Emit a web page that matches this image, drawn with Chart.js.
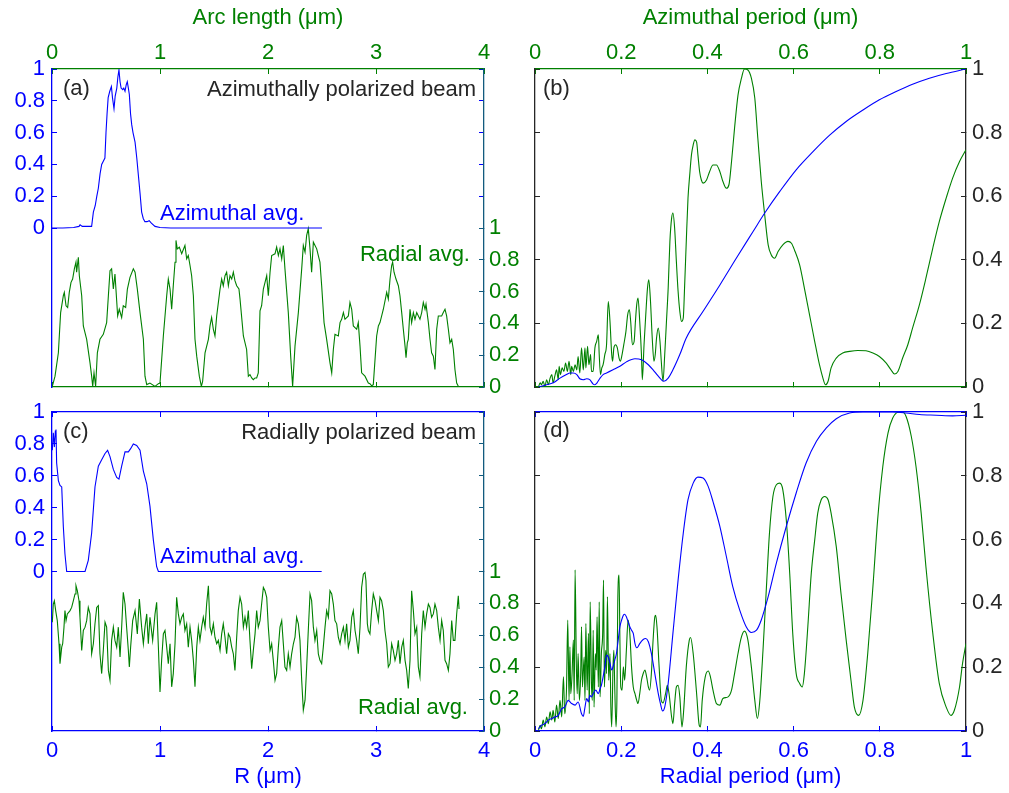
<!DOCTYPE html>
<html lang="en">
<head>
<meta charset="UTF-8">
<title>Beam averages and spectra</title>
<script src="https://cdn.jsdelivr.net/npm/chart.js@4.4.1/dist/chart.umd.min.js"></script>
<style>
  body { margin: 0; background: #fff; }
  #fig { position: relative; width: 1009px; height: 793px; font-family: "Liberation Sans", Arial, sans-serif; }
  #fig canvas { position: absolute; left: 0; top: 0; }
  .note { position: absolute; font-size: 22px; line-height: 22px; white-space: nowrap; transform: translateY(-50%); color: #262626; }
</style>
<script>
// ---------- tick values ----------
const rTicks = [0, 1, 2, 3, 4];
const unitTicks = [0, 0.2, 0.4, 0.6, 0.8, 1];

// ---------- (a) azimuthally polarized beam ----------
const aziA_R = [0, 0.1, 0.2, 0.25, 0.26, 0.28, 0.33, 0.367, 0.383, 0.40,
  0.415, 0.429, 0.445, 0.46, 0.475, 0.49, 0.50, 0.51, 0.52, 0.535,
  0.55, 0.56, 0.574, 0.585, 0.60, 0.61, 0.62, 0.63, 0.64, 0.655,
  0.665, 0.676, 0.687, 0.697, 0.707, 0.716, 0.727, 0.738, 0.75, 0.769,
  0.785, 0.80, 0.815, 0.83, 0.845, 0.86, 0.88, 0.90, 0.92, 0.954,
  1.0, 1.1, 2.5];
const aziA = [0, 0, 0.003, 0.01, 0.02, 0.01, 0.01, 0.01, 0.10, 0.14,
  0.20, 0.25, 0.34, 0.40, 0.42, 0.44, 0.60, 0.72, 0.82, 0.86,
  0.89, 0.82, 0.75, 0.83, 0.88, 0.95, 0.995, 0.92, 0.88, 0.87,
  0.88, 0.86, 0.90, 0.92, 0.88, 0.84, 0.72, 0.65, 0.60, 0.54,
  0.44, 0.33, 0.22, 0.10, 0.06, 0.04, 0.04, 0.046, 0.03, 0.01,
  0.003, 0, 0];

const radA_s = [0.003,0.028,0.059,0.080,0.105,0.114,0.130,0.145,0.160,0.176,
  0.191,0.207,0.222,0.228,0.244,0.253,0.275,0.290,0.321,0.352,
  0.367,0.377,0.389,0.404,0.420,0.444,0.475,0.506,0.522,0.537,
  0.552,0.568,0.583,0.608,0.623,0.645,0.660,0.682,0.698,0.722,
  0.753,0.769,0.790,0.815,0.846,0.861,0.877,0.907,0.954,0.985,
  1.000,1.031,1.062,1.077,1.093,1.108,1.123,1.139,1.148,1.160,
  1.179,1.201,1.231,1.247,1.262,1.278,1.293,1.309,1.324,1.340,
  1.364,1.383,1.395,1.417,1.448,1.463,1.478,1.494,1.509,1.525,
  1.556,1.571,1.586,1.602,1.617,1.633,1.648,1.664,1.679,1.694,
  1.710,1.731,1.741,1.772,1.802,1.818,1.833,1.849,1.864,1.880,
  1.895,1.910,1.926,1.941,1.957,1.988,2.003,2.019,2.034,2.065,
  2.080,2.096,2.111,2.127,2.142,2.157,2.188,2.210,2.228,2.250,
  2.281,2.312,2.327,2.343,2.358,2.373,2.389,2.404,2.420,2.451,
  2.466,2.481,2.497,2.519,2.543,2.574,2.590,2.605,2.620,2.651,
  2.667,2.682,2.698,2.713,2.744,2.759,2.775,2.790,2.821,2.836,
  2.852,2.867,2.898,2.929,2.944,2.960,2.975,3.006,3.022,3.037,
  3.068,3.099,3.114,3.130,3.145,3.154,3.167,3.185,3.207,3.222,
  3.238,3.253,3.269,3.278,3.290,3.299,3.315,3.330,3.346,3.361,
  3.377,3.407,3.423,3.438,3.454,3.463,3.485,3.500,3.515,3.531,
  3.546,3.562,3.577,3.608,3.623,3.639,3.654,3.670,3.685,3.701,
  3.716,3.731,3.747,3.762];
const radA = [0.004,0.068,0.215,0.468,0.574,0.595,0.511,0.500,0.595,0.658,
  0.679,0.743,0.785,0.722,0.816,0.700,0.574,0.384,0.300,0.152,
  0.068,0.004,0.089,0.004,0.215,0.300,0.331,0.405,0.574,0.732,
  0.743,0.616,0.711,0.447,0.489,0.437,0.511,0.500,0.616,0.690,
  0.743,0.722,0.616,0.468,0.300,0.068,0.015,0.025,0.004,0.021,
  0.025,0.321,0.574,0.679,0.616,0.489,0.637,0.785,0.922,0.869,
  0.880,0.838,0.890,0.806,0.827,0.764,0.700,0.574,0.300,0.194,
  0.068,0.004,0.036,0.215,0.300,0.384,0.437,0.363,0.321,0.447,
  0.616,0.679,0.637,0.700,0.722,0.637,0.700,0.679,0.722,0.669,
  0.637,0.616,0.553,0.321,0.236,0.068,0.078,0.057,0.046,0.057,
  0.057,0.089,0.479,0.511,0.616,0.700,0.574,0.722,0.827,0.838,
  0.880,0.827,0.869,0.806,0.890,0.743,0.468,0.194,0.004,0.257,
  0.468,0.743,0.890,0.848,0.954,0.996,0.869,0.722,0.911,0.869,
  0.827,0.785,0.637,0.405,0.300,0.152,0.089,0.236,0.331,0.321,
  0.405,0.426,0.468,0.426,0.447,0.532,0.489,0.384,0.363,0.405,
  0.257,0.089,0.068,0.025,0.021,0.008,0.015,0.321,0.384,0.405,
  0.489,0.595,0.553,0.679,0.764,0.785,0.722,0.679,0.637,0.574,
  0.468,0.363,0.257,0.184,0.278,0.300,0.489,0.405,0.468,0.426,
  0.468,0.426,0.468,0.532,0.489,0.521,0.405,0.300,0.215,0.194,
  0.110,0.363,0.447,0.447,0.468,0.489,0.447,0.363,0.278,0.300,
  0.236,0.110,0.025,0.004];

// ---------- (b) spectra of (a) ----------
const fftAziB_p = [0.008,0.027,0.042,0.058,0.073,0.081,0.089,0.097,0.104,0.112,
  0.120,0.127,0.135,0.139,0.144,0.151,0.158,0.166,0.181,0.197,
  0.212,0.232,0.247,0.263,0.274,0.286,0.299,0.309,0.320,0.336,
  0.351,0.390,0.429,0.467,0.506,0.533,0.568,0.606,0.645,0.683,
  0.722,0.761,0.799,0.838,0.876,0.915,0.954,1.0];
const fftAziB = [0,0.007,0.013,0.028,0.039,0.044,0.044,0.039,0.026,0.023,
  0.026,0.023,0.009,0.007,0.013,0.028,0.039,0.044,0.054,0.065,
  0.079,0.089,0.086,0.070,0.054,0.034,0.018,0.028,0.054,0.102,
  0.154,0.238,0.321,0.405,0.489,0.547,0.615,0.683,0.740,0.791,
  0.835,0.871,0.903,0.929,0.952,0.971,0.986,1.0];

const fftRadB_p = [0.008,0.012,0.015,0.019,0.023,0.027,0.031,0.035,0.039,0.042,
  0.046,0.050,0.054,0.056,0.059,0.063,0.067,0.071,0.075,0.079,
  0.083,0.085,0.089,0.093,0.097,0.100,0.104,0.108,0.112,0.116,
  0.118,0.122,0.125,0.129,0.131,0.135,0.139,0.143,0.147,0.149,
  0.152,0.155,0.158,0.162,0.166,0.170,0.174,0.178,0.180,0.183,
  0.187,0.191,0.195,0.198,0.202,0.206,0.211,0.215,0.219,0.222,
  0.226,0.230,0.233,0.236,0.239,0.243,0.247,0.249,0.253,0.257,
  0.261,0.264,0.268,0.272,0.276,0.279,0.282,0.286,0.290,0.293,
  0.297,0.301,0.305,0.309,0.313,0.317,0.320,0.324,0.328,0.332,
  0.336,0.340,0.344,0.347,0.351,0.355,0.359,0.363,0.367,0.371,
  0.375,0.378,0.382,0.386,0.390,0.398,0.405,0.413,0.421,0.429,
  0.436,0.444,0.450,0.456,0.463,0.471,0.479,0.486,0.494,0.502,
  0.510,0.517,0.525,0.533,0.541,0.548,0.556,0.564,0.575,0.587,
  0.595,0.602,0.614,0.625,0.637,0.649,0.660,0.668,0.674,0.680,
  0.687,0.699,0.714,0.730,0.749,0.768,0.784,0.799,0.815,0.826,
  0.834,0.842,0.853,0.865,0.876,0.892,0.907,0.923,0.938,0.954,
  0.969,0.985,1.0];
const fftRadB = [0,0.013,0.007,0.018,0.002,0.023,0.007,0.028,0.039,0.013,
  0.034,0.054,0.023,0.065,0.039,0.060,0.049,0.075,0.049,0.081,
  0.039,0.065,0.049,0.070,0.054,0.096,0.044,0.123,0.054,0.123,
  0.060,0.128,0.070,0.102,0.049,0.049,0.123,0.143,0.164,0.102,
  0.039,0.060,0.070,0.102,0.133,0.269,0.206,0.102,0.081,0.123,
  0.133,0.123,0.091,0.081,0.102,0.133,0.175,0.227,0.243,0.206,
  0.133,0.143,0.206,0.259,0.280,0.206,0.102,0.023,0.133,0.227,
  0.311,0.337,0.269,0.154,0.081,0.102,0.154,0.185,0.143,0.081,
  0.018,0.102,0.206,0.311,0.458,0.531,0.547,0.499,0.395,0.301,
  0.238,0.206,0.217,0.311,0.458,0.594,0.667,0.730,0.761,0.777,
  0.770,0.730,0.677,0.651,0.641,0.651,0.677,0.698,0.698,0.677,
  0.646,0.625,0.636,0.709,0.814,0.918,0.971,1.0,0.997,0.971,
  0.908,0.782,0.646,0.541,0.447,0.416,0.405,0.426,0.447,0.458,
  0.452,0.431,0.384,0.311,0.227,0.143,0.070,0.028,0.007,0.018,
  0.060,0.091,0.107,0.112,0.115,0.114,0.107,0.096,0.075,0.054,
  0.041,0.049,0.091,0.133,0.185,0.259,0.342,0.437,0.520,0.594,
  0.657,0.709,0.746];

// ---------- (c) radially polarized beam ----------
const aziC_R = [0.003,0.012,0.022,0.031,0.037,0.043,0.059,0.074,0.090,0.105,
  0.120,0.136,0.306,0.336,0.367,0.398,0.429,0.460,0.491,0.515,
  0.537,0.568,0.599,0.620,0.645,0.676,0.707,0.728,0.753,0.784,
  0.815,0.846,0.877,0.907,0.938,0.969,0.985,2.497];
const aziC = [0.76,0.87,0.78,0.88,0.89,0.68,0.57,0.54,0.53,0.28,
  0.11,0,0,0.07,0.24,0.53,0.66,0.70,0.74,0.76,
  0.72,0.64,0.59,0.58,0.66,0.75,0.75,0.77,0.80,0.79,
  0.76,0.63,0.55,0.41,0.20,0.03,0,0];

const radC_s = [0.003,0.012,0.022,0.034,0.049,0.065,0.074,0.090,0.099,0.111,
  0.120,0.130,0.142,0.154,0.167,0.182,0.198,0.213,0.222,0.235,
  0.250,0.259,0.275,0.290,0.306,0.321,0.336,0.352,0.367,0.383,
  0.398,0.414,0.429,0.444,0.460,0.475,0.491,0.506,0.522,0.537,
  0.552,0.568,0.583,0.599,0.614,0.630,0.645,0.660,0.676,0.691,
  0.707,0.716,0.728,0.747,0.769,0.790,0.809,0.830,0.846,0.861,
  0.877,0.892,0.907,0.932,0.954,0.969,0.985,1.000,1.015,1.031,
  1.046,1.062,1.077,1.093,1.108,1.123,1.139,1.154,1.170,1.185,
  1.201,1.216,1.231,1.247,1.262,1.278,1.293,1.309,1.324,1.340,
  1.355,1.370,1.386,1.401,1.417,1.432,1.448,1.463,1.478,1.494,
  1.509,1.525,1.540,1.556,1.571,1.586,1.602,1.617,1.633,1.648,
  1.664,1.679,1.694,1.710,1.725,1.741,1.756,1.772,1.787,1.802,
  1.818,1.833,1.849,1.864,1.880,1.895,1.910,1.926,1.941,1.957,
  1.972,1.988,2.003,2.019,2.034,2.049,2.065,2.080,2.096,2.111,
  2.127,2.142,2.157,2.173,2.188,2.204,2.219,2.235,2.250,2.265,
  2.281,2.296,2.312,2.327,2.343,2.358,2.373,2.389,2.404,2.420,
  2.435,2.451,2.466,2.481,2.497,2.512,2.528,2.543,2.559,2.574,
  2.590,2.605,2.620,2.636,2.651,2.667,2.682,2.698,2.713,2.728,
  2.744,2.759,2.775,2.790,2.806,2.821,2.836,2.852,2.867,2.883,
  2.898,2.907,2.920,2.929,2.944,2.960,2.975,2.991,3.006,3.022,
  3.037,3.052,3.068,3.083,3.099,3.114,3.130,3.145,3.160,3.176,
  3.191,3.207,3.222,3.238,3.253,3.269,3.284,3.299,3.315,3.330,
  3.346,3.361,3.377,3.392,3.407,3.423,3.438,3.454,3.469,3.485,
  3.500,3.515,3.531,3.546,3.562,3.577,3.593,3.608,3.623,3.639,
  3.654,3.670,3.685,3.701,3.716,3.731,3.747,3.762,3.769];
const radC = [0.682,0.796,0.817,0.755,0.692,0.547,0.422,0.526,0.547,0.651,
  0.755,0.692,0.734,0.744,0.755,0.775,0.817,0.859,0.911,0.879,
  0.817,0.713,0.505,0.630,0.651,0.692,0.775,0.734,0.484,0.547,
  0.672,0.775,0.786,0.484,0.360,0.505,0.682,0.651,0.380,0.318,
  0.568,0.651,0.568,0.526,0.651,0.464,0.651,0.869,0.796,0.651,
  0.505,0.401,0.526,0.692,0.755,0.609,0.827,0.651,0.547,0.651,
  0.734,0.547,0.713,0.568,0.734,0.807,0.526,0.245,0.443,0.609,
  0.630,0.526,0.422,0.547,0.277,0.360,0.547,0.838,0.734,0.672,
  0.713,0.734,0.630,0.672,0.526,0.651,0.568,0.443,0.277,0.526,
  0.651,0.568,0.651,0.713,0.651,0.796,0.911,0.651,0.609,0.672,
  0.588,0.547,0.568,0.505,0.609,0.672,0.588,0.484,0.609,0.588,
  0.526,0.484,0.380,0.588,0.755,0.838,0.796,0.651,0.713,0.651,
  0.755,0.568,0.391,0.505,0.609,0.755,0.651,0.692,0.796,0.900,
  0.879,0.838,0.651,0.505,0.547,0.443,0.318,0.360,0.526,0.651,
  0.692,0.547,0.401,0.380,0.484,0.401,0.484,0.547,0.588,0.713,
  0.672,0.568,0.318,0.131,0.193,0.401,0.630,0.859,0.817,0.651,
  0.568,0.630,0.484,0.443,0.422,0.526,0.651,0.755,0.713,0.879,
  0.859,0.796,0.692,0.672,0.588,0.547,0.609,0.651,0.568,0.672,
  0.526,0.568,0.713,0.755,0.630,0.568,0.484,0.651,0.900,0.983,
  0.994,0.942,0.672,0.630,0.609,0.755,0.859,0.817,0.755,0.692,
  0.838,0.817,0.755,0.630,0.547,0.401,0.422,0.547,0.505,0.443,
  0.484,0.568,0.422,0.526,0.568,0.443,0.380,0.266,0.443,0.879,
  0.755,0.609,0.651,0.401,0.339,0.609,0.755,0.651,0.734,0.796,
  0.775,0.713,0.734,0.796,0.755,0.651,0.568,0.692,0.630,0.443,
  0.422,0.380,0.484,0.692,0.568,0.568,0.734,0.848,0.765];

// ---------- (d) spectra of (c) ----------
const fftAziD_p = [0.008,0.015,0.023,0.031,0.039,0.046,0.054,0.062,0.069,0.077,
  0.085,0.093,0.100,0.108,0.112,0.116,0.120,0.124,0.127,0.131,
  0.135,0.141,0.147,0.151,0.154,0.162,0.166,0.170,0.174,0.178,
  0.181,0.185,0.189,0.193,0.197,0.201,0.205,0.208,0.212,0.216,
  0.220,0.224,0.228,0.232,0.236,0.239,0.243,0.251,0.257,0.263,
  0.270,0.278,0.286,0.291,0.296,0.301,0.309,0.320,0.332,0.344,
  0.355,0.367,0.378,0.390,0.402,0.413,0.429,0.444,0.459,0.475,
  0.490,0.502,0.514,0.525,0.541,0.560,0.583,0.606,0.629,0.653,
  0.676,0.699,0.730,0.761,0.799,0.830,0.861,0.892,0.931,0.969,
  1.0];
const fftAziD = [0.007,0.018,0.023,0.034,0.039,0.044,0.049,0.070,0.075,0.096,
  0.086,0.081,0.091,0.054,0.046,0.075,0.102,0.091,0.112,0.107,
  0.117,0.128,0.117,0.133,0.143,0.201,0.238,0.232,0.212,0.191,
  0.201,0.222,0.243,0.285,0.327,0.348,0.363,0.366,0.358,0.342,
  0.327,0.316,0.306,0.274,0.261,0.264,0.274,0.287,0.290,0.280,
  0.243,0.180,0.117,0.086,0.063,0.075,0.149,0.306,0.473,0.620,
  0.725,0.777,0.796,0.793,0.766,0.719,0.641,0.547,0.452,0.379,
  0.327,0.309,0.316,0.348,0.421,0.526,0.641,0.746,0.840,0.908,
  0.950,0.979,0.997,1.0,1.0,1.0,0.997,0.992,0.990,0.988,
  0.990];

const fftRadD_p = [0.008,0.012,0.015,0.019,0.023,0.027,0.031,0.035,0.039,0.042,
  0.046,0.050,0.054,0.058,0.062,0.066,0.069,0.073,0.076,0.079,
  0.081,0.083,0.086,0.089,0.091,0.093,0.096,0.098,0.100,0.103,
  0.106,0.108,0.110,0.114,0.116,0.118,0.121,0.124,0.126,0.128,
  0.131,0.133,0.135,0.137,0.140,0.142,0.144,0.147,0.149,0.151,
  0.154,0.157,0.159,0.161,0.164,0.166,0.168,0.171,0.174,0.176,
  0.178,0.181,0.183,0.185,0.188,0.190,0.192,0.195,0.197,0.199,
  0.202,0.205,0.208,0.212,0.216,0.220,0.224,0.228,0.232,0.236,
  0.239,0.243,0.247,0.251,0.255,0.259,0.263,0.266,0.270,0.274,
  0.278,0.280,0.283,0.288,0.293,0.297,0.303,0.307,0.311,0.317,
  0.320,0.324,0.328,0.332,0.336,0.341,0.345,0.351,0.358,0.361,
  0.367,0.375,0.381,0.384,0.388,0.395,0.402,0.407,0.413,0.421,
  0.429,0.436,0.448,0.456,0.463,0.471,0.479,0.486,0.494,0.502,
  0.510,0.516,0.521,0.529,0.537,0.544,0.552,0.560,0.568,0.575,
  0.583,0.591,0.598,0.606,0.614,0.620,0.625,0.633,0.641,0.649,
  0.656,0.664,0.672,0.680,0.687,0.699,0.710,0.722,0.734,0.741,
  0.751,0.761,0.772,0.784,0.795,0.807,0.819,0.830,0.842,0.852,
  0.861,0.873,0.884,0.896,0.907,0.923,0.938,0.954,0.965,0.973,
  0.985,0.992,1.0];
const fftRadD = [0.002,0.018,0.007,0.034,0.013,0.044,0.023,0.060,0.034,0.065,
  0.028,0.081,0.039,0.096,0.044,0.170,0.054,0.128,0.348,0.096,
  0.264,0.117,0.180,0.285,0.096,0.505,0.201,0.117,0.243,0.096,
  0.180,0.327,0.138,0.232,0.096,0.337,0.128,0.306,0.054,0.405,
  0.149,0.096,0.316,0.075,0.243,0.191,0.358,0.138,0.405,0.107,
  0.243,0.306,0.473,0.138,0.253,0.180,0.421,0.159,0.243,0.075,
  0.013,0.201,0.253,0.138,0.013,0.096,0.400,0.489,0.285,0.138,
  0.128,0.201,0.159,0.253,0.348,0.306,0.201,0.138,0.117,0.096,
  0.086,0.117,0.159,0.180,0.191,0.170,0.138,0.128,0.180,0.285,
  0.358,0.363,0.327,0.201,0.096,0.088,0.117,0.143,0.117,0.044,
  0.023,0.086,0.138,0.143,0.107,0.013,0.065,0.201,0.285,0.293,
  0.243,0.117,0.018,0.013,0.096,0.170,0.188,0.170,0.128,0.086,
  0.081,0.102,0.107,0.128,0.180,0.243,0.295,0.313,0.285,0.201,
  0.096,0.039,0.086,0.253,0.452,0.620,0.735,0.772,0.777,0.756,
  0.662,0.494,0.306,0.180,0.149,0.138,0.180,0.327,0.494,0.599,
  0.683,0.725,0.735,0.725,0.683,0.578,0.431,0.285,0.149,0.075,
  0.049,0.096,0.243,0.452,0.662,0.829,0.934,0.981,0.999,1.0,
  0.986,0.924,0.829,0.683,0.515,0.306,0.149,0.075,0.049,0.065,
  0.138,0.212,0.274];
</script>
</head>
<body>
<div id="fig">
  <canvas id="pa" width="1009" height="793"></canvas>
  <canvas id="pb" width="1009" height="793"></canvas>
  <canvas id="pc" width="1009" height="793"></canvas>
  <canvas id="pd" width="1009" height="793"></canvas>

  <div class="note" style="left:63px;top:88px">(a)</div>
  <div class="note" style="right:533px;top:89px">Azimuthally polarized beam</div>
  <div class="note" style="left:160px;top:213px;color:#0000ff">Azimuthal avg.</div>
  <div class="note" style="right:539px;top:254px;color:#008000">Radial avg.</div>
  <div class="note" style="left:543px;top:88px">(b)</div>
  <div class="note" style="left:63px;top:431px">(c)</div>
  <div class="note" style="right:533px;top:432px">Radially polarized beam</div>
  <div class="note" style="left:160px;top:556px;color:#0000ff">Azimuthal avg.</div>
  <div class="note" style="right:541px;top:707px;color:#008000">Radial avg.</div>
  <div class="note" style="left:543px;top:430px">(d)</div>
</div>

<script>
const BLUE = '#0000ff', GREEN = '#008000', TEAL = '#125b7e', INK = '#262626';
const FONT = '"Liberation Sans", Arial, sans-serif';
const W = 1009, H = 793;

// one axis; ticks point inward, box size is fixed so the plot frame lands where wanted
function axis(pos, min, max, ticks, o) {
  const horiz = pos === 'top' || pos === 'bottom';
  return {
    type: 'linear', position: pos, min: min, max: max, weight: o.weight || 0,
    afterBuildTicks: s => { s.ticks = ticks.map(v => ({ value: v })); },
    afterFit: s => { if (horiz) s.height = o.size; else s.width = o.size; },
    grid: { display: true, drawOnChartArea: false, drawTicks: true, tickLength: -5,
            tickColor: o.tick, tickWidth: 1 },
    border: { display: !!o.line, color: o.line || 'transparent', width: 1.3 },
    ticks: { display: !!o.text, color: o.text, padding: o.pad || 0,
             font: { family: FONT, size: 22 }, maxRotation: 0, autoSkip: false,
             callback: v => String(Math.round(v * 10) / 10) },
    title: { display: !!o.title, text: o.title || '', color: o.text,
             font: { family: FONT, size: 22 }, padding: 1 }
  };
}

// smooth = monotone cubic between samples, otherwise straight segments
function series(xs, ys, color, xID, yID, smooth) {
  return {
    data: xs.map((x, i) => ({ x: x, y: ys[i] })),
    borderColor: color, borderWidth: 1.1, pointRadius: 0, fill: false,
    cubicInterpolationMode: smooth ? 'monotone' : 'default', tension: 0,
    xAxisID: xID, yAxisID: yID
  };
}

// frame = plot rectangle in page pixels, side = summed axis box sizes
function panel(id, frame, side, scales, datasets) {
  new Chart(document.getElementById(id), {
    type: 'line',
    data: { datasets: datasets },
    options: {
      responsive: false, animation: false, devicePixelRatio: 1,
      layout: { padding: { left: frame.l - side.l, right: W - frame.r - side.r,
                           top: frame.t - side.t, bottom: H - frame.b - side.b } },
      plugins: { legend: { display: false }, tooltip: { enabled: false } },
      scales: scales
    }
  });
}

// (a)
panel('pa', { l: 52, r: 484, t: 69, b: 387 }, { l: 45, r: 60, t: 65, b: 20 }, {
  xt:  axis('top', 0, 4, rTicks, { size: 65, line: GREEN, tick: GREEN, text: GREEN, pad: 8, title: 'Arc length (μm)' }),
  x:   axis('bottom', 0, 4, rTicks, { size: 20, line: GREEN, tick: GREEN }),
  yb:  axis('left', -1, 1, unitTicks, { size: 45, line: BLUE, tick: BLUE, text: BLUE, pad: 12 }),
  ybr: axis('right', -1, 1, unitTicks, { size: 0, tick: BLUE, weight: -1 }),
  yg:  axis('right', 0, 2, unitTicks, { size: 60, line: TEAL, tick: TEAL, text: GREEN, pad: 10 })
}, [
  series(aziA_R, aziA, BLUE, 'x', 'yb', false),
  series(radA_s, radA, GREEN, 'xt', 'yg', false)
]);

// (b)
panel('pb', { l: 535, r: 966, t: 69, b: 387 }, { l: 20, r: 40, t: 65, b: 20 }, {
  xt: axis('top', 0, 1, unitTicks, { size: 65, line: GREEN, tick: GREEN, text: GREEN, pad: 8, title: 'Azimuthal period (μm)' }),
  x:  axis('bottom', 0, 1, unitTicks, { size: 20, line: GREEN, tick: GREEN }),
  yl: axis('left', 0, 1, unitTicks, { size: 20, line: INK, tick: INK }),
  y:  axis('right', 0, 1, unitTicks, { size: 40, line: INK, tick: INK, text: INK, pad: 11 })
}, [
  series(fftAziB_p, fftAziB, BLUE, 'x', 'y', true),
  series(fftRadB_p, fftRadB, GREEN, 'xt', 'y', true)
]);

// (c)
panel('pc', { l: 52, r: 484, t: 412, b: 731 }, { l: 45, r: 60, t: 20, b: 60 }, {
  xt:  axis('top', 0, 4, rTicks, { size: 20, line: BLUE, tick: BLUE }),
  x:   axis('bottom', 0, 4, rTicks, { size: 60, line: BLUE, tick: BLUE, text: BLUE, pad: 12, title: 'R (μm)' }),
  yb:  axis('left', -1, 1, unitTicks, { size: 45, line: BLUE, tick: BLUE, text: BLUE, pad: 12 }),
  ybr: axis('right', -1, 1, unitTicks, { size: 0, tick: TEAL, weight: -1 }),
  yg:  axis('right', 0, 2, unitTicks, { size: 60, line: TEAL, tick: TEAL, text: GREEN, pad: 10 })
}, [
  series(aziC_R, aziC, BLUE, 'x', 'yb', false),
  series(radC_s, radC, GREEN, 'xt', 'yg', false)
]);

// (d)
panel('pd', { l: 535, r: 966, t: 412, b: 731 }, { l: 20, r: 40, t: 20, b: 60 }, {
  xt: axis('top', 0, 1, unitTicks, { size: 20, line: BLUE, tick: BLUE }),
  x:  axis('bottom', 0, 1, unitTicks, { size: 60, line: BLUE, tick: BLUE, text: BLUE, pad: 12, title: 'Radial period (μm)' }),
  yl: axis('left', 0, 1, unitTicks, { size: 20, line: INK, tick: INK }),
  y:  axis('right', 0, 1, unitTicks, { size: 40, line: INK, tick: INK, text: INK, pad: 11 })
}, [
  series(fftAziD_p, fftAziD, BLUE, 'x', 'y', true),
  series(fftRadD_p, fftRadD, GREEN, 'x', 'y', true)
]);
</script>
</body>
</html>
